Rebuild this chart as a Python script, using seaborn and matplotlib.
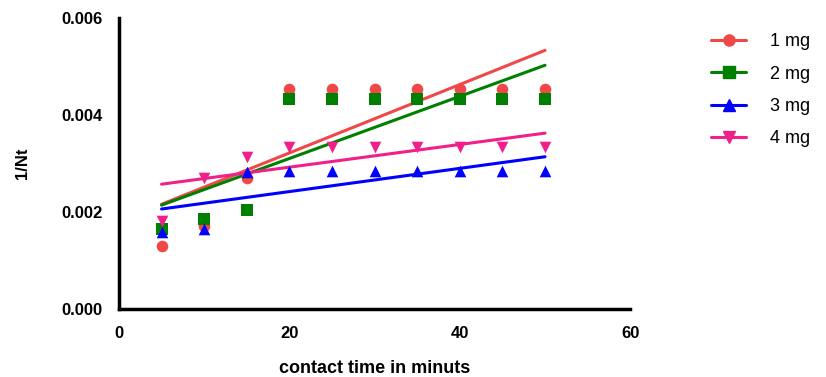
import numpy as np
import pandas as pd
import matplotlib
matplotlib.use("Agg")
import matplotlib.pyplot as plt
import seaborn as sns
from matplotlib.lines import Line2D

time_min = [5, 10, 15, 20, 25, 30, 35, 40, 45, 50]
mg1 = [0.00130, 0.00171, 0.00270, 0.00454, 0.00454, 0.00454, 0.00454, 0.00454, 0.00454, 0.00454]
mg2 = [0.00165, 0.00186, 0.00204, 0.00433, 0.00433, 0.00433, 0.00433, 0.00433, 0.00433, 0.00433]
mg3 = [0.00160, 0.00165, 0.00283, 0.00285, 0.00285, 0.00285, 0.00285, 0.00285, 0.00285, 0.00285]
mg4 = [0.00181, 0.00270, 0.00313, 0.00334, 0.00334, 0.00334, 0.00334, 0.00334, 0.00334, 0.00334]
series_labels = ["1 mg", "2 mg", "3 mg", "4 mg"]
x_ticks = [0, 20, 40, 60]
y_ticks = [0.000, 0.002, 0.004, 0.006]

sns.set_style("white")
plt.rcParams['font.family'] = ['Liberation Sans', 'DejaVu Sans']
plt.rcParams['text.color'] = 'black'
plt.rcParams['axes.labelcolor'] = 'black'
plt.rcParams['xtick.color'] = 'black'
plt.rcParams['ytick.color'] = 'black'

fig = plt.figure(figsize=(8.26, 3.77), dpi=100)
ax = fig.add_axes([0.144, 0.180, 0.619, 0.772])

colors = ["#F04848", "#008000", "#0000FF", "#F0208A"]
markers = ["o", "s", "^", "v"]

df = pd.DataFrame({"time": time_min, "1 mg": mg1, "2 mg": mg2, "3 mg": mg3, "4 mg": mg4})
for lab, c, m in zip(series_labels, colors, markers):
    sns.regplot(data=df, x="time", y=lab, ax=ax, ci=None, truncate=True,
                marker=m, color=c,
                scatter_kws=dict(s=70, linewidths=0, alpha=1, zorder=3),
                line_kws=dict(lw=2.2, zorder=2))

ax.set_xlim(0, 60)
ax.set_ylim(0, 0.006)
ax.set_xticks(x_ticks)
ax.set_yticks(y_ticks)
ax.set_xticklabels([str(v) for v in x_ticks], fontweight='bold', fontsize=12)
ax.set_yticklabels([f"{v:.3f}" for v in y_ticks], fontweight='bold', fontsize=12)
ax.set_xlabel("contact time in minuts", fontweight='bold', fontsize=13, labelpad=14)
ax.set_ylabel("1/Nt", fontweight='bold', fontsize=12, labelpad=22)

for s in ["top", "right"]:
    ax.spines[s].set_visible(False)
for s in ["left", "bottom"]:
    ax.spines[s].set_linewidth(2.5)
    ax.spines[s].set_color("black")
ax.tick_params(axis='both', direction='out', length=6, width=2.5, color='black',
               labelcolor='black', pad=6)

handles = [Line2D([0], [0], color=c, marker=m, lw=2.2, markersize=8) for c, m in zip(colors, markers)]
fig.legend(handles, series_labels, loc='upper left', bbox_to_anchor=(0.841, 0.955),
           frameon=False, fontsize=13, handlelength=1.95, labelspacing=0.85, handletextpad=1.3,
           labelcolor='black')

fig.savefig("out.png", dpi=100)
